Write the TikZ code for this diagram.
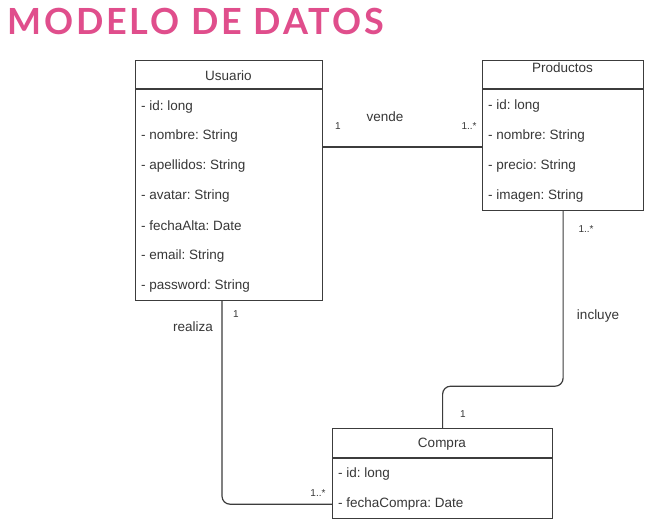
\documentclass[tikz,border=0pt]{standalone}
\usepackage{fontspec}
\setmainfont{Liberation Sans}
\newfontfamily\titlefont[LetterSpace=8]{Lato}
\usetikzlibrary{calc}
\definecolor{titlepink}{RGB}{224,78,140}
\definecolor{ink}{RGB}{55,55,55}
\definecolor{linec}{RGB}{60,60,60}
\tikzset{
  classbox/.style={draw=linec, line width=1.2pt, rectangle, inner sep=0pt, anchor=north west},
  sepline/.style={draw=linec, line width=1.2pt},
  attr/.style={anchor=west, inner sep=0pt, text=ink, font=\fontsize{13.5}{16}\selectfont},
  ctitle/.style={anchor=center, inner sep=0pt, text=ink, font=\fontsize{13.5}{16}\selectfont},
  conn/.style={draw=linec, line width=1.2pt, rounded corners=8pt},
  rel/.style={inner sep=0pt, text=ink, font=\fontsize{13.5}{16}\selectfont},
  mult/.style={inner sep=0pt, text=ink, font=\fontsize{10}{12}\selectfont}
}
\begin{document}
\frenchspacing
\begin{tikzpicture}[x=1pt,y=-1pt]
\useasboundingbox (0,0) rectangle (666,532);
\fill[white] (0,0) rectangle (666,532);
% title
\node[anchor=west, inner sep=0pt, text=titlepink, font=\titlefont\bfseries\fontsize{36}{40}\selectfont] (title) at (7,21) {MODELO DE DATOS};
% Usuario
\node[classbox, minimum width=187pt, minimum height=240pt] (usuario) at (135,60) {};
\draw[sepline] ($(usuario.north west)+(0,29)$) -- ($(usuario.north east)+(0,29)$);
\node[ctitle] (usuarioT) at (228.5,76) {Usuario};
\node[attr] (u1) at (141,107) {- id: long};
\node[attr] (u2) at (141,136) {- nombre: String};
\node[attr] (u3) at (141,166) {- apellidos: String};
\node[attr] (u4) at (141,196) {- avatar: String};
\node[attr] (u5) at (141,226) {- fechaAlta: Date};
\node[attr] (u6) at (141,256) {- email: String};
\node[attr] (u7) at (141,286) {- password: String};
% Productos
\node[classbox, minimum width=161pt, minimum height=150pt] (productos) at (482,60) {};
\draw[sepline] ($(productos.north west)+(0,29)$) -- ($(productos.north east)+(0,29)$);
\node[ctitle] (productosT) at (562.5,68) {Productos};
\node[attr] (p1) at (488,106) {- id: long};
\node[attr] (p2) at (488,136) {- nombre: String};
\node[attr] (p3) at (488,166) {- precio: String};
\node[attr] (p4) at (488,196) {- imagen: String};
% Compra
\node[classbox, minimum width=220pt, minimum height=90pt] (compra) at (332,428) {};
\draw[sepline] ($(compra.north west)+(0,30)$) -- ($(compra.north east)+(0,30)$);
\node[ctitle] (compraT) at (442,444) {Compra};
\node[attr] (c1) at (338,474) {- id: long};
\node[attr] (c2) at (338,504) {- fechaCompra: Date};
% connectors
\coordinate (vA) at ($(usuario.north east)+(0,87)$);
\draw[conn] (vA) -- (vA -| productos.west);
\draw[conn] (productos.south) -- ++(0,175) -| (compra.north);
\coordinate (uA) at ($(usuario.south west)+(87,0)$);
\draw[conn] (uA) |- ($(compra.south west)+(0,-15)$);
% labels
\node[mult] (m1) at (338,126) {1};
\node[rel] (vende) at (385,117) {vende};
\node[mult] (m2) at (469,126) {1..*};
\node[mult] (m3) at (586,229) {1..*};
\node[rel] (incluye) at (598,316) {incluye};
\node[mult] (m4) at (463,414) {1};
\node[mult] (m5) at (236,314) {1};
\node[rel] (realiza) at (193,327) {realiza};
\node[mult] (m6) at (318,493) {1..*};
\end{tikzpicture}
\end{document}
